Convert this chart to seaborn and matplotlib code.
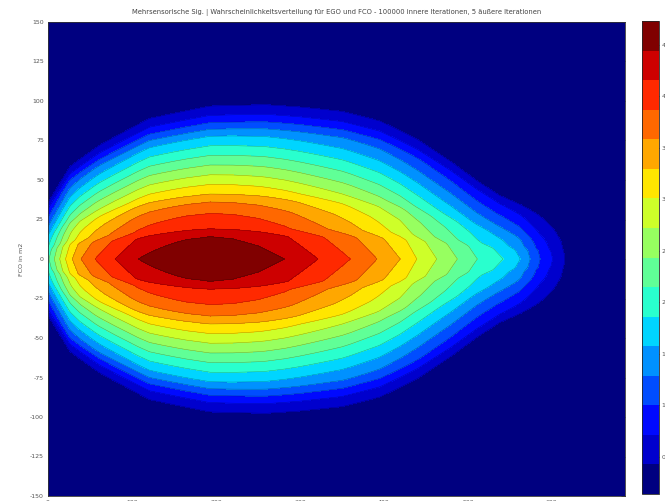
import numpy as np
import matplotlib
matplotlib.use("Agg")
import matplotlib.pyplot as plt
import seaborn as sns

# Value of the (log) probability density along the centre line y = 0
centre_x = [0, 10, 18, 27, 38, 56, 80, 107, 120, 135, 151, 165, 193, 220, 250,
            282, 321, 360, 392, 419, 439, 463, 487, 511, 542, 562, 574, 586,
            601, 615, 633, 687]
centre_val = [2.09, 2.55, 2.90, 3.24, 3.56, 3.87, 4.16, 4.44, 4.52, 4.59, 4.65,
              4.69, 4.72, 4.69, 4.60, 4.44, 4.16, 3.87, 3.58, 3.30, 3.01, 2.72,
              2.44, 2.15, 1.86, 1.58, 1.29, 1.00, 0.71, 0.43, 0.14, 0.14]

# Vertical spread (half width, in y units) of the distribution along x
spread_x = [0, 26, 62, 121, 193, 260, 300, 350, 395, 440, 479, 510, 538, 574,
            598, 633, 687]
spread_y = [36, 56, 68, 83, 90, 91, 90, 88, 83, 73, 61, 50, 41, 34, 30, 26, 24]

# Cross-section: fraction of the centre value vs. normalised |y|
shape_r = [0, 0.156, 0.211, 0.320, 0.401, 0.456, 0.524, 0.592, 0.660, 0.728,
           0.796, 0.864, 0.912, 0.959, 1.010, 1.075, 1.15, 5.0]
shape_g = [1, 0.940, 0.878, 0.815, 0.752, 0.690, 0.627, 0.564, 0.502, 0.439,
           0.376, 0.313, 0.251, 0.188, 0.125, 0.063, 0, 0]

z_min, z_max, n_bands = 0.14, 4.73, 16
cbar_ticks = [0.5, 1.0, 1.5, 2.0, 2.5, 3.0, 3.5, 4.0, 4.5]
x_ticks = [0, 100, 200, 300, 400, 500, 600]
y_ticks = [150, 125, 100, 75, 50, 25, 0, -25, -50, -75, -100, -125, -150]
y_ticklabels = ["150", "125", "100", "75", "50", "25", "0", "-25", "-50",
                "-75", "-100", "-125", "-150"]

title = ("Mehrsensorische Sig. | Wahrscheinlichkeitsverteilung für EGO und FCO - "
         "100000 innere Iterationen, 5 äußere Iterationen")
y_label = "FCO in m2"

sns.set_style("white")
plt.rcParams["font.family"] = ["DejaVu Sans"]

# Density field on a regular grid
gx = np.linspace(0, 687, 460)
gy = np.linspace(-150, 150, 301)
X, Y = np.meshgrid(gx, gy)
P = np.interp(gx, centre_x, centre_val)
W = np.interp(gx, spread_x, spread_y)
G = np.interp(np.abs(Y) / W[None, :], shape_r, shape_g)
Z = z_min + (P[None, :] - z_min) * G

levels = np.linspace(z_min, z_max, n_bands + 1)
band_colors = plt.get_cmap("jet")(np.linspace(0, 1, n_bands))

fig = plt.figure(figsize=(6.65, 5.01), dpi=100)
W_px, H_px = 665, 501
ax = fig.add_axes([48 / W_px, (H_px - 496) / H_px, 577 / W_px, 474 / H_px])
cs = ax.contourf(X, Y, Z, levels=levels, colors=band_colors)
ax.contour(X, Y, Z, levels=levels[1:], colors="k", linewidths=0.35, alpha=0.35)

ax.set_xlim(0, 687)
ax.set_ylim(-150, 150)
ax.set_xticks(x_ticks)
ax.set_yticks(y_ticks)
ax.set_yticklabels(y_ticklabels)
ax.tick_params(direction="in", length=3, width=0.5, labelsize=4.5,
               labelcolor="#555555", pad=3, top=True, right=True)
for s in ax.spines.values():
    s.set_linewidth(0.6)
    s.set_color("#333333")
ax.set_title(title, fontsize=4.9, color="#444444", pad=6)
ax.set_ylabel(y_label, fontsize=4.6, color="#555555", labelpad=4)

cax = fig.add_axes([642 / W_px, (H_px - 494) / H_px, 17 / W_px, 473 / H_px])
cb = fig.colorbar(cs, cax=cax, ticks=cbar_ticks)
cb.ax.tick_params(direction="in", length=3, width=0.5, labelsize=4.5,
                  labelcolor="#555555", pad=2)
cb.outline.set_linewidth(0.6)

fig.savefig("out.png", dpi=100)
